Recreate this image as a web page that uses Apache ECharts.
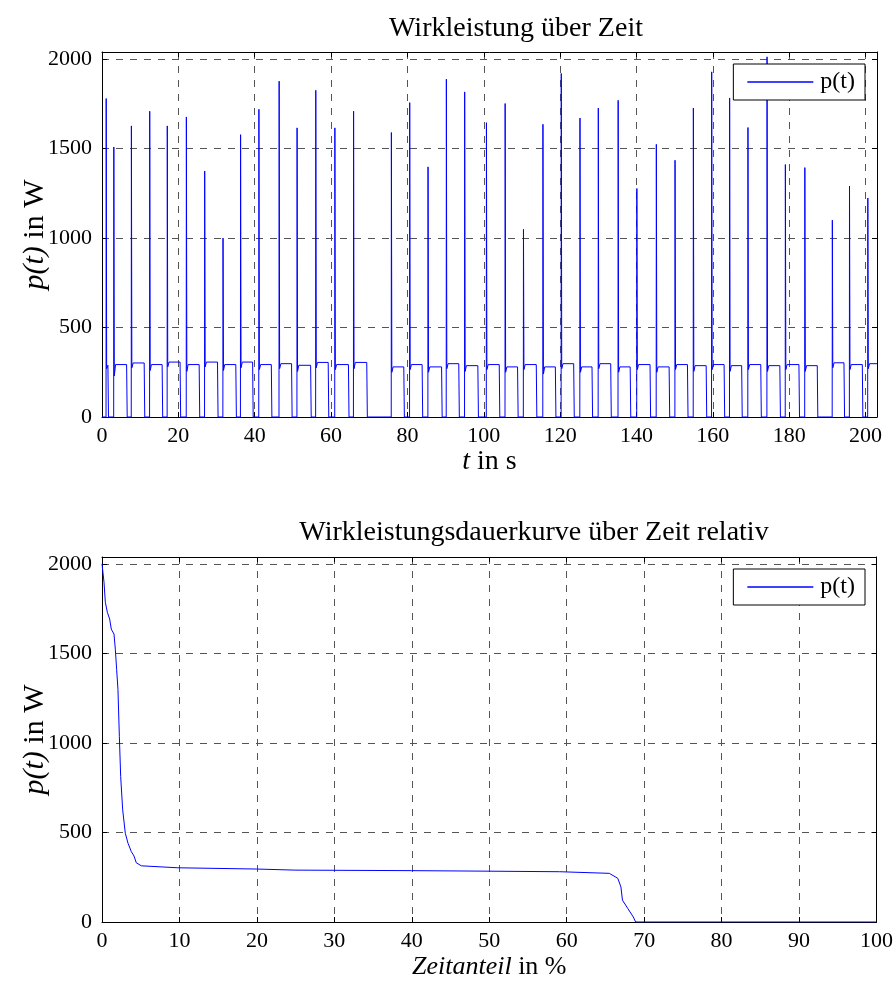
<!DOCTYPE html>
<html>
<head>
<meta charset="utf-8">
<title>Wirkleistung</title>
<script src="https://cdn.jsdelivr.net/npm/echarts@6/dist/echarts.min.js"></script>
<style>
	html, body { margin: 0; padding: 0; background: #fff; }
	#main { width: 896px; height: 982px; }
</style>
</head>
<body>
<div id="main"></div>
<script>
	// Oben: Wirkleistung über Zeit, je Zyklus Spitze + Plateau
	const spikeT = [1.1, 3.1, 7.7, 12.5, 17.1, 22.1, 26.9, 31.7, 36.3, 41.1,
		46.4, 51.1, 56.0, 61.0, 65.9, 75.8, 80.6, 85.4, 90.2, 95.0,
		100.7, 105.6, 110.4, 115.5, 120.3, 125.2, 130.0, 135.2, 140.1, 145.2,
		150.1, 154.9, 159.7, 164.4, 169.2, 174.2, 179.0, 184.1, 191.3, 195.8, 200.6];
	const spikeP = [1780, 1509, 1627, 1709, 1627, 1677, 1375, 1000, 1578, 1720,
		1877, 1616, 1826, 1616, 1709, 1590, 1757, 1398, 1888, 1817,
		1645, 1752, 1049, 1636, 1920, 1671, 1727, 1770, 1277, 1524,
		1435, 1727, 1929, 1783, 1618, 2013, 1411, 1394, 1100, 1291, 1224];
	const offT = [1.7, 6.6, 11.2, 15.9, 20.6, 25.6, 30.4, 35.2, 39.6, 44.5,
		49.8, 54.8, 59.4, 64.7, 69.5, 79.2, 84.0, 89.1, 93.6, 98.6,
		104.2, 109.0, 113.9, 118.9, 123.7, 128.5, 133.4, 138.5, 143.7, 148.7,
		153.5, 158.4, 163.1, 167.7, 172.7, 177.7, 182.7, 187.5, 194.5, 199.3, 203];
	const plateauP = [289, 293, 302, 293, 307, 293, 307, 293, 307, 293,
		298, 289, 305, 293, 305, 280, 293, 280, 298, 287,
		293, 280, 293, 280, 298, 280, 298, 280, 293, 280,
		293, 287, 293, 287, 293, 287, 293, 287, 303, 293, 298];
	// kurzer Einbruch direkt nach der Spitze
	const dipP = [270, 230, 275, 260, 280, 255, 280, 260, 275, 265,
		270, 255, 275, 265, 270, 250, 265, 250, 270, 255,
		265, 250, 265, 240, 270, 250, 270, 250, 265, 250,
		265, 255, 265, 255, 265, 255, 265, 255, 275, 265, 270];

	// Unten: Dauerkurve
	const dauerX = [0, 0.26, 0.43, 0.69, 0.99, 1.2, 1.55, 1.72, 1.89, 2.06,
		2.24, 2.41, 2.67, 3.01, 3.36, 3.79, 4.13, 4.43, 5.08, 9.8,
		20, 24.9, 40, 50, 59.1, 65.5, 66.6, 67.0, 67.2, 67.9, 68.6, 68.9, 100];
	const dauerP = [2002, 1899, 1787, 1731, 1693, 1637, 1609, 1525, 1412, 1300,
		1038, 814, 627, 496, 440, 393, 369, 331, 314, 303,
		296, 290, 287, 284, 281, 272, 244, 196, 122, 75, 28, 0, 0];

	const tMax = 203;
	const pMax = 2040;

	let chart = echarts.init(document.getElementById('main'));
	const font = 'Liberation Serif';

	let topData = [[0, 0]];
	for (let i = 0; i < spikeT.length; i++) {
		let ts = spikeT[i];
		topData.push([ts - 0.04, 0], [ts, spikeP[i]], [ts + 0.12, dipP[i]], [ts + 0.45, plateauP[i]]);
		if (offT[i] < tMax) {
			topData.push([offT[i] - 0.15, plateauP[i]], [offT[i], 0]);
		} else {
			topData.push([tMax, plateauP[i]]);
		}
	}
	let bottomData = dauerX.map((x, i) => [x, dauerP[i]]);

	function frameAxis(grid, pos, min, max, interval) {
		return {
			gridIndex: grid,
			type: 'value',
			position: pos,
			min: min,
			max: max,
			interval: interval,
			axisLine: { show: true, onZero: false, lineStyle: { color: '#000', width: 1 } },
			axisTick: { show: true, inside: true, length: 5, lineStyle: { color: '#000' } },
			axisLabel: { show: false },
			splitLine: { show: false }
		};
	}

	function mainAxis(grid, pos, min, max, interval, name, gap, nameSize) {
		let ax = frameAxis(grid, pos, min, max, interval);
		ax.axisLabel = {
			show: true,
			margin: pos === 'left' ? 10 : 8,
			color: '#000',
			fontFamily: font,
			fontSize: 22,
			formatter: v => (v % interval === 0 ? v : '')
		};
		ax.splitLine = { show: true, lineStyle: { color: '#555', type: [7, 7], width: 1 } };
		ax.name = name;
		ax.nameLocation = 'middle';
		ax.nameGap = gap;
		ax.nameMoveOverlap = false;
		ax.nameTextStyle = {
			color: '#000',
			fontFamily: font,
			fontSize: nameSize,
			rich: {
				i: { fontStyle: 'italic', fontFamily: font, fontSize: nameSize, color: '#000' },
				n: { fontFamily: font, fontSize: nameSize, color: '#000' }
			}
		};
		return ax;
	}

	function legendAt(top) {
		return {
			data: ['p(t)'],
			right: 31,
			top: top,
			selectedMode: false,
			backgroundColor: '#fff',
			borderColor: '#000',
			borderWidth: 1,
			borderRadius: 0,
			padding: [6, 10, 6, 14],
			icon: 'rect',
			itemWidth: 66,
			itemHeight: 1.5,
			textStyle: { fontFamily: font, fontSize: 24, color: '#000', padding: [0, 0, 0, 2] }
		};
	}

	option = {
		backgroundColor: '#fff',
		animation: false,
		title: [{
			text: 'Wirkleistung über Zeit',
			left: 511,
			top: 10,
			textAlign: 'center',
			textStyle: { fontFamily: font, fontSize: 28, fontWeight: 'normal', color: '#000' }
		}, {
			text: 'Wirkleistungsdauerkurve über Zeit relativ',
			left: 529,
			top: 514,
			textAlign: 'center',
			textStyle: { fontFamily: font, fontSize: 28, fontWeight: 'normal', color: '#000' }
		}],
		legend: [legendAt(64), legendAt(569)],
		grid: [
			{ left: 102, top: 52, width: 775, height: 365 },
			{ left: 102, top: 557, width: 775, height: 365 }
		],
		xAxis: [
			mainAxis(0, 'bottom', 0, tMax, 20, '{i|t}{n| in s}', 31, 28),
			frameAxis(0, 'top', 0, tMax, 20),
			mainAxis(1, 'bottom', 0, 100, 10, '{i|Zeitanteil}{n| in %}', 32, 26),
			frameAxis(1, 'top', 0, 100, 10)
		],
		yAxis: [
			mainAxis(0, 'left', 0, pMax, 500, '{i|p(t)}{n| in W}', 52, 30),
			frameAxis(0, 'right', 0, pMax, 500),
			mainAxis(1, 'left', 0, pMax, 500, '{i|p(t)}{n| in W}', 52, 30),
			frameAxis(1, 'right', 0, pMax, 500)
		],
		series: [{
			name: 'p(t)',
			type: 'line',
			xAxisIndex: 0,
			yAxisIndex: 0,
			showSymbol: false,
			color: '#0000ff',
			lineStyle: { width: 1, color: '#0000ff' },
			data: topData
		}, {
			name: 'p(t)',
			type: 'line',
			xAxisIndex: 2,
			yAxisIndex: 2,
			showSymbol: false,
			color: '#0000ff',
			lineStyle: { width: 1, color: '#0000ff' },
			data: bottomData
		}]
	};

	chart.setOption(option);

	window.onresize = function() {
		chart.resize();
	}
</script>
</body>
</html>
